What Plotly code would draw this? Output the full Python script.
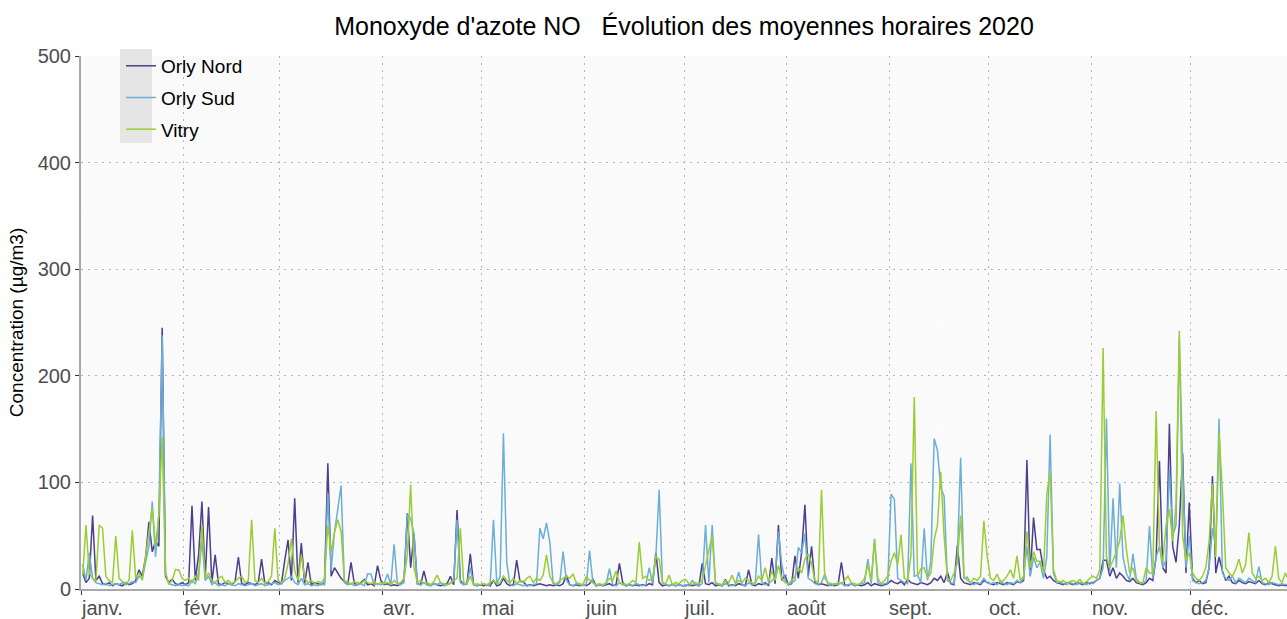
import pandas as pd
import plotly.graph_objects as go

# ---------------- data (daily maxima, µg/m3) ----------------
SERIES_NAMES = ["Orly Nord", "Orly Sud", "Vitry"]
SERIES_COLORS = ["#4B3F8F", "#6BAED6", "#9ACD32"]

MONTH_STARTS = ["2020-01-01", "2020-02-01", "2020-03-01", "2020-04-01", "2020-05-01", "2020-06-01",
                "2020-07-01", "2020-08-01", "2020-09-01", "2020-10-01", "2020-11-01", "2020-12-01"]
MONTH_LABELS = ["janv.", "févr.", "mars", "avr.", "mai", "juin",
                "juil.", "août", "sept.", "oct.", "nov.", "déc."]
MID_MONTHS = ["2020-01-16", "2020-02-15", "2020-03-16", "2020-04-16", "2020-05-16", "2020-06-16",
              "2020-07-16", "2020-08-16", "2020-09-16", "2020-10-16", "2020-11-16", "2020-12-16"]
Y_TICKS = [0, 100, 200, 300, 400, 500]

ORLY_NORD = [
    15, 6, 10, 69, 8, 12, 5, 4, 6, 3, 5, 4, 3, 6, 4, 5, 8, 18, 12, 30, 63, 35, 45, 40, 245, 12, 6, 9, 5, 4, 6,
    4, 6, 78, 8, 32, 82, 10, 77, 6, 32, 5, 4, 6, 5, 4, 7, 30, 5, 4, 6, 5, 4, 6, 28, 5, 6, 4, 8, 6,
    5, 27, 46, 8, 85, 6, 43, 5, 25, 4, 6, 5, 4, 6, 118, 12, 20, 15, 10, 7, 4, 25, 5, 4, 6, 9, 4, 5, 3, 22, 8,
    4, 5, 3, 4, 3, 5, 9, 71, 20, 52, 5, 4, 17, 4, 3, 5, 4, 3, 4, 5, 12, 4, 74, 8, 4, 5, 33, 4, 3, 4,
    3, 4, 3, 8, 3, 4, 10, 5, 3, 4, 27, 7, 7, 3, 4, 3, 4, 5, 4, 3, 4, 3, 4, 3, 5, 13, 4, 3, 4, 3, 4,
    3, 5, 9, 3, 4, 3, 4, 5, 3, 4, 24, 6, 3, 4, 3, 4, 3, 4, 3, 5, 4, 34, 6, 3, 4, 3, 4, 3, 4, 3,
    3, 4, 3, 4, 3, 24, 5, 4, 6, 3, 4, 3, 9, 3, 4, 3, 5, 4, 3, 18, 4, 3, 5, 4, 6, 3, 29, 5, 60, 8, 13,
    4, 5, 31, 10, 34, 79, 12, 40, 6, 4, 5, 4, 3, 4, 3, 4, 25, 4, 3, 5, 3, 4, 3, 4, 6, 3, 5, 4, 3, 4, 5,
    8, 6, 5, 7, 4, 9, 6, 5, 4, 6, 5, 4, 6, 10, 8, 12, 6, 16, 5, 4, 41, 10, 6, 5, 4, 6, 5, 4, 8, 6,
    5, 4, 6, 5, 4, 6, 5, 4, 7, 6, 8, 121, 12, 67, 37, 37, 18, 10, 12, 8, 6, 5, 4, 6, 5, 4, 6, 5, 4, 6, 5,
    6, 8, 10, 27, 27, 12, 20, 10, 15, 12, 8, 7, 10, 6, 5, 4, 6, 10, 8, 30, 120, 20, 15, 155, 40, 25, 60, 127, 15, 81,
    10, 6, 8, 5, 6, 20, 106, 15, 30, 17, 8, 12, 6, 5, 8, 6, 5, 7, 6, 5, 8, 5, 4, 6, 5, 4, 3, 4, 3, 4, 3,
]

ORLY_SUD = [
    23, 8, 34, 10, 6, 5, 4, 5, 3, 4, 5, 4, 6, 4, 5, 7, 6, 12, 10, 25, 40, 82, 30, 70, 238, 15, 5, 4, 3, 4, 3,
    4, 3, 8, 5, 15, 45, 8, 12, 4, 6, 3, 4, 3, 5, 4, 3, 5, 4, 3, 4, 5, 3, 4, 5, 3, 4, 5, 6, 4,
    5, 8, 10, 12, 6, 4, 10, 4, 5, 3, 4, 3, 5, 4, 90, 18, 53, 73, 97, 6, 4, 5, 3, 4, 5, 3, 14, 14, 4, 5, 4,
    5, 14, 4, 42, 5, 4, 6, 70, 66, 52, 5, 4, 6, 4, 3, 5, 4, 6, 3, 4, 5, 8, 65, 6, 4, 5, 20, 4, 3, 4,
    5, 3, 4, 65, 5, 12, 146, 25, 4, 3, 5, 4, 3, 4, 3, 4, 5, 57, 47, 62, 44, 5, 4, 6, 35, 8, 4, 3, 5, 4, 3,
    4, 36, 6, 3, 4, 3, 5, 19, 4, 3, 6, 4, 3, 4, 3, 5, 4, 3, 4, 20, 5, 30, 93, 6, 4, 3, 4, 3, 4, 3,
    4, 3, 8, 4, 3, 5, 60, 6, 60, 5, 4, 3, 5, 4, 3, 4, 16, 4, 3, 6, 4, 5, 51, 6, 4, 5, 8, 10, 54, 23, 8,
    4, 6, 8, 39, 34, 52, 10, 8, 5, 4, 6, 14, 4, 3, 5, 4, 6, 3, 4, 5, 3, 4, 5, 6, 28, 5, 47, 6, 4, 5, 6,
    89, 84, 10, 8, 6, 5, 118, 12, 13, 6, 57, 8, 26, 141, 130, 95, 87, 8, 6, 5, 30, 123, 10, 11, 5, 4, 6, 5, 10, 6,
    5, 6, 4, 8, 5, 4, 6, 5, 8, 6, 10, 40, 12, 30, 20, 25, 10, 30, 145, 15, 6, 7, 5, 4, 6, 5, 4, 6, 5, 4, 6,
    5, 8, 10, 20, 160, 15, 85, 20, 99, 30, 15, 8, 33, 10, 6, 5, 8, 59, 10, 30, 40, 20, 27, 112, 50, 60, 235, 117, 20, 50,
    8, 6, 5, 6, 8, 20, 57, 40, 160, 15, 10, 8, 12, 6, 10, 8, 6, 10, 8, 6, 21, 6, 5, 4, 6, 5, 4, 5, 4, 5, 4,
]

VITRY = [
    12, 60, 15, 10, 8, 60, 57, 12, 8, 6, 50, 10, 7, 5, 8, 55, 10, 15, 8, 30, 50, 76, 40, 70, 143, 15, 5, 8, 18, 18, 10,
    8, 10, 6, 12, 8, 60, 10, 15, 8, 6, 10, 12, 6, 8, 5, 7, 10, 12, 6, 8, 65, 8, 6, 10, 5, 7, 12, 57, 8,
    6, 10, 24, 47, 17, 8, 32, 10, 6, 8, 5, 7, 6, 10, 60, 35, 53, 65, 54, 8, 6, 5, 7, 6, 5, 8, 6, 5, 7, 4, 6,
    5, 6, 4, 8, 5, 6, 10, 32, 98, 20, 6, 8, 5, 6, 4, 7, 13, 6, 5, 4, 6, 8, 10, 57, 6, 5, 12, 4, 5, 4,
    5, 4, 6, 8, 5, 6, 12, 8, 6, 10, 5, 8, 6, 10, 12, 6, 10, 8, 13, 32, 12, 6, 5, 8, 10, 12, 10, 14, 6, 5, 4,
    12, 8, 6, 4, 5, 4, 6, 10, 8, 17, 6, 5, 4, 5, 8, 6, 44, 10, 12, 8, 10, 30, 28, 6, 5, 13, 4, 6, 5, 8,
    9, 5, 4, 6, 5, 8, 22, 38, 50, 6, 5, 4, 8, 6, 13, 5, 8, 6, 10, 8, 6, 5, 12, 8, 20, 6, 17, 8, 22, 10, 6,
    5, 8, 12, 20, 15, 28, 33, 24, 8, 6, 93, 10, 6, 5, 4, 6, 5, 8, 12, 6, 5, 4, 6, 10, 23, 8, 46, 10, 5, 8, 12,
    26, 34, 23, 51, 10, 8, 31, 180, 12, 19, 20, 10, 15, 46, 60, 110, 50, 10, 8, 15, 24, 69, 12, 8, 6, 10, 8, 12, 64, 31,
    10, 8, 14, 6, 8, 12, 18, 10, 31, 8, 12, 54, 20, 35, 26, 26, 15, 89, 110, 18, 8, 6, 8, 5, 7, 8, 6, 9, 5, 7, 10,
    12, 10, 18, 226, 30, 20, 27, 35, 45, 69, 38, 15, 20, 8, 6, 6, 20, 15, 15, 167, 40, 25, 60, 75, 45, 80, 242, 50, 27, 34,
    15, 10, 8, 12, 20, 45, 99, 30, 146, 92, 20, 15, 12, 18, 28, 15, 23, 53, 15, 10, 12, 8, 10, 6, 12, 40, 10, 6, 15, 8, 6,
]

# ---------------- figure ----------------
FONT = "Liberation Sans, Arial, sans-serif"
dates = pd.date_range("2020-01-01 12:00", periods=len(VITRY), freq="D")

fig = go.Figure()
for i, (name, vals, col) in enumerate(zip(SERIES_NAMES, [ORLY_NORD, ORLY_SUD, VITRY], SERIES_COLORS)):
    fig.add_trace(go.Scatter(x=dates, y=vals, mode="lines", name=name,
                             line=dict(color=col, width=1.5), legendgroup=f"g{i}"))

dotted = "1.5px,5.5px"
grid_col = "#B4B4B4"
fig.update_layout(
    width=1287, height=619,
    margin=dict(l=81, r=0, t=56, b=30, pad=0),
    paper_bgcolor="white", plot_bgcolor="#FAFAFA",
    font=dict(family=FONT, color="black"),
    title=dict(text="Monoxyde d'azote NO\u00a0\u00a0\u00a0Évolution des moyennes horaires 2020",
               font=dict(size=25, color="black", family=FONT),
               x=0.5, xref="paper", xanchor="center", y=1 - 26 / 619, yref="container", yanchor="middle"),
    showlegend=True,
    legend=dict(x=(121 - 81) / 1206, y=1.017, xanchor="left", yanchor="top",
                bgcolor="rgba(0,0,0,0)", font=dict(size=19, color="black", family=FONT),
                tracegroupgap=4, itemwidth=30),
    xaxis=dict(
        type="date", range=["2020-01-01", "2020-12-30"],
        tickmode="array", tickvals=MONTH_STARTS, ticktext=["" for _ in MONTH_STARTS],
        showticklabels=False, ticks="outside", ticklen=4, tickcolor="#333333", tickwidth=1.2,
        showgrid=True, gridcolor=grid_col, gridwidth=1.2, griddash=dotted,
        minor=dict(tickvals=MID_MONTHS, showgrid=True, gridcolor="white", gridwidth=1, ticks=""),
        showline=True, linecolor="#A8A8A8", linewidth=2, zeroline=False,
    ),
    yaxis=dict(
        range=[0, 500], tickmode="array", tickvals=Y_TICKS,
        ticks="outside", ticklen=4, tickcolor="#333333", tickwidth=1.2,
        tickfont=dict(size=20, color="#4D4D4D", family=FONT),
        showgrid=True, gridcolor=grid_col, gridwidth=1.2, griddash=dotted,
        minor=dict(dtick=50, tick0=50, showgrid=True, gridcolor="white", gridwidth=1, ticks=""),
        showline=True, linecolor="#A8A8A8", linewidth=2, zeroline=False,
        title=dict(text="Concentration (µg/m3)", font=dict(size=19, color="black", family=FONT), standoff=9),
    ),
)

# month labels, left-aligned at the month start like the reference
for d, lab in zip(MONTH_STARTS, MONTH_LABELS):
    fig.add_annotation(x=d, xref="x", y=0, yref="paper", yanchor="top", xanchor="left",
                       text=lab, showarrow=False, yshift=-6, xshift=-2,
                       font=dict(size=20, color="#4D4D4D", family=FONT))

# grey legend-key panel
fig.add_shape(type="rect", xref="paper", yref="paper",
              x0=(120 - 81) / 1206, x1=(152 - 81) / 1206, y0=(589 - 143) / 533, y1=(589 - 49) / 533,
              fillcolor="#E5E5E5", line=dict(width=0), layer="above")

fig.write_html("out.html", config={"displayModeBar": False},
               post_script="document.body.style.margin='0';")
